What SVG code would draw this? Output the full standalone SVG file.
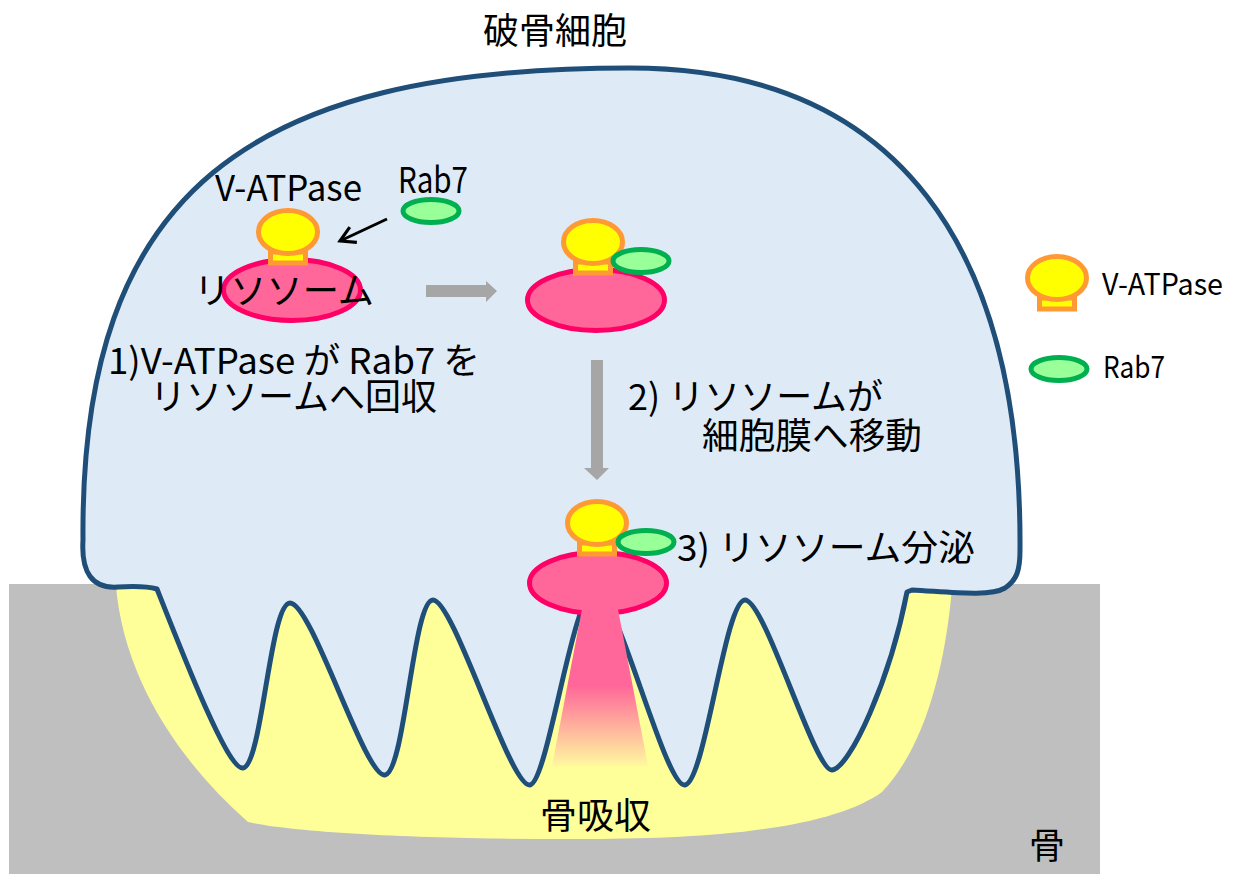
<svg xmlns="http://www.w3.org/2000/svg" width="1236" height="874" viewBox="0 0 1236 874">
  <style>
    text { font-family: "Noto Sans CJK JP", "Noto Sans", sans-serif; fill: #000; }
    .lbl { font-size: 36px; }
    .leg { font-size: 30px; }
    .lyso { fill: #FF6699; stroke: #FF0066; stroke-width: 5; }
    .rab { fill: #99FF99; stroke: #00B050; stroke-width: 5; }
    .vhead { fill: #FFFF00; stroke: #FF9933; stroke-width: 5; }
    .flow { fill: #A6A6A6; }
  </style>
  <defs>
    <!-- V-ATPase: stalk + head, origin at head centre -->
    <g id="vatpase">
      <rect class="vhead" x="-17.5" y="20" width="35" height="11"/>
      <ellipse class="vhead" cx="0" cy="0" rx="29.5" ry="21.5"/>
    </g>
    <ellipse id="rab7" class="rab" cx="0" cy="0" rx="28" ry="11.5"/>
    <ellipse id="lysosome" class="lyso" cx="0" cy="0" rx="68.5" ry="30.5"/>
    <linearGradient id="secretion" x1="0" y1="0" x2="0" y2="1">
      <stop offset="0" stop-color="#FF6699"/>
      <stop offset="0.5" stop-color="#FF6699"/>
      <stop offset="1" stop-color="#FFF8A0"/>
    </linearGradient>
    <marker id="openHead" viewBox="0 0 20 20" refX="17" refY="10" markerWidth="7" markerHeight="7" markerUnits="strokeWidth" orient="auto">
      <path d="M3 2 L17 10 L3 18" fill="none" stroke="#000" stroke-width="3"/>
    </marker>
  </defs>

  <!-- bone -->
  <g id="bone">
    <rect x="9" y="584" width="1091" height="290" fill="#BFBFBF"/>
    <text class="lbl" x="1029" y="859">骨</text>
  </g>

  <!-- resorption lacuna -->
  <g id="lacuna">
    <path d="M116 586 C124 680 180 762 248 822 C300 834 450 840 600 839 C750 838 840 822 882 792 C920 752 944 680 952 588 Z" fill="#FFFF99"/>
  </g>

  <!-- osteoclast -->
  <g id="osteoclast">
    <path d="M157 589 C185 660 228 770 243 768 C262 766 270 603 290 603 C312 603 365 778 385 775 C405 772 413 600 433 600 C454 600 510 788 530 785 C548 782 573 590 595 590 C617 590 665 788 685 785 C705 782 725 600 745 600 C765 600 815 772 832 770 C850 768 890 680 907 592 L912 590 C950 592 990 597 1005 588 C1017 580 1020 570 1020 550 C1022 250 900 68 630 68 C250 68 80 190 83 540 C81 572 92 589 118 587 C135 586 150 587 157 589 Z" fill="#DEEBF7" stroke="#1F4E79" stroke-width="5" stroke-linejoin="round"/>
    <text class="lbl" x="483" y="44" textLength="144" lengthAdjust="spacingAndGlyphs">破骨細胞</text>
  </g>

  <!-- step 1: lysosome recruits Rab7 -->
  <g id="step1">
    <use href="#lysosome" x="292" y="290"/>
    <use href="#vatpase" x="288" y="232"/>
    <use href="#rab7" x="431" y="211"/>
    <text class="lbl" x="215" y="201" textLength="147" lengthAdjust="spacingAndGlyphs">V-ATPase</text>
    <text class="lbl" x="398" y="193" textLength="70" lengthAdjust="spacingAndGlyphs">Rab7</text>
    <text class="lbl" x="194" y="304" textLength="180" lengthAdjust="spacingAndGlyphs">リソソーム</text>
    <text class="lbl"><tspan x="108" y="374" textLength="372" lengthAdjust="spacingAndGlyphs">1)V-ATPase が Rab7 を</tspan><tspan x="150" y="410" textLength="287" lengthAdjust="spacingAndGlyphs">リソソームへ回収</tspan></text>
  </g>

  <!-- step 2: lysosome moves to membrane -->
  <g id="step2">
    <use href="#lysosome" x="596" y="300"/>
    <use href="#vatpase" x="593" y="242"/>
    <use href="#rab7" x="641" y="261"/>
    <text class="lbl"><tspan x="628" y="410" textLength="255" lengthAdjust="spacingAndGlyphs">2) リソソームが</tspan><tspan x="702" y="449" textLength="220" lengthAdjust="spacingAndGlyphs">細胞膜へ移動</tspan></text>
  </g>

  <!-- step 3: lysosome secretion -->
  <g id="step3">
    <use href="#lysosome" x="598" y="583"/>
    <polygon points="583,604 617,604 648,766 552,766" fill="url(#secretion)"/>
    <use href="#vatpase" x="597" y="523"/>
    <use href="#rab7" x="646" y="542"/>
    <text class="lbl" x="677" y="561" textLength="298" lengthAdjust="spacingAndGlyphs">3) リソソーム分泌</text>
    <text class="lbl" x="540" y="829" textLength="111" lengthAdjust="spacingAndGlyphs">骨吸収</text>
  </g>

  <!-- connectors -->
  <g id="connectors">
    <line x1="387" y1="219" x2="340" y2="241" stroke="#000" stroke-width="3" marker-end="url(#openHead)"/>
    <polygon class="flow" points="426,285 486,285 486,281 497,291 486,302 486,297 426,297"/>
    <polygon class="flow" points="591,360 603,360 603,468 609,468 597,480 584,468 591,468"/>
  </g>

  <!-- legend -->
  <g id="legend">
    <use href="#vatpase" x="1057" y="278"/>
    <text class="leg" x="1102" y="295" textLength="121" lengthAdjust="spacingAndGlyphs">V-ATPase</text>
    <use href="#rab7" x="1059" y="369"/>
    <text class="leg" x="1103" y="378" textLength="62" lengthAdjust="spacingAndGlyphs">Rab7</text>
  </g>
</svg>
